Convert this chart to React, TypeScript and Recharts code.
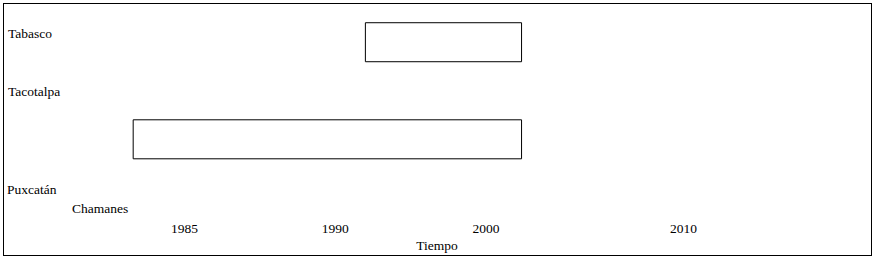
import { BarChart, Bar, XAxis, YAxis } from "recharts";

const FONT = '"Liberation Serif", "Times New Roman", serif';

// place names, and the level of the diagram each name sits on
const places = ["Tabasco", "Tacotalpa", "Puxcatán", "Chamanes"];
const placeLevels = [0.3, 1.5, 3.5, 3.9];

// periods drawn as boxes
const periodNames = ["Tabasco", "Tacotalpa"];
const periodLevels = [0.5, 2.5];
const periodStart = [1992, 1983.3];
const periodEnd = [2001.8, 2001.8];

// the time axis of the original is not linear, each tick year has its own slot
const tickYears = [1985, 1990, 2000, 2010];
const tickSlots = [0, 1, 2, 3.31];

function toSlot(year: number) {
  let i = 0;
  while (i < tickYears.length - 2 && year > tickYears[i + 1]) i++;
  const t = (year - tickYears[i]) / (tickYears[i + 1] - tickYears[i]);
  return tickSlots[i] + t * (tickSlots[i + 1] - tickSlots[i]);
}

const chartData = periodNames.map((name, i) => ({
  name,
  level: periodLevels[i],
  span: [toSlot(periodStart[i]), toSlot(periodEnd[i])],
}));

const labelDx: Record<string, number> = {
  Tabasco: 6,
  Tacotalpa: 6,
  "Puxcatán": 5,
  Chamanes: 70,
};

function PlaceTick(props: any) {
  const { x, y, payload, index } = props;
  let i = placeLevels.indexOf(payload?.value);
  if (i < 0) i = index;
  const name = places[i];
  return (
    <text
      x={x + (labelDx[name] ?? 6)}
      y={y}
      dy="0.42em"
      textAnchor="start"
      fill="#000"
      fontSize={13.5}
      fontFamily={FONT}
    >
      {name}
    </text>
  );
}

export default function App() {
  return (
    <div
      style={{
        position: "absolute",
        left: 0,
        top: 0,
        width: 876,
        height: 259,
        background: "#fff",
        fontFamily: FONT,
      }}
    >
      <BarChart
        width={876}
        height={259}
        layout="vertical"
        data={chartData}
        margin={{ top: 18, right: 4, bottom: 0, left: 2 }}
      >
        <XAxis
          type="number"
          domain={[-1.21, 4.56]}
          allowDataOverflow
          ticks={tickSlots}
          interval={0}
          tickFormatter={(v) => String(tickYears[tickSlots.indexOf(v)])}
          axisLine={false}
          tickLine={false}
          tickSize={0}
          tickMargin={6}
          height={42}
          tick={{ fill: "#000", fontSize: 13.5, fontFamily: FONT }}
          label={{
            value: "Tiempo",
            position: "insideBottom",
            offset: 9,
            fill: "#000",
            fontSize: 13.5,
            fontFamily: FONT,
          }}
        />
        <YAxis
          type="number"
          dataKey="level"
          domain={[0, 4.1]}
          allowDataOverflow
          ticks={placeLevels}
          interval={0}
          width={1}
          mirror
          axisLine={false}
          tickLine={false}
          tickSize={0}
          tickMargin={0}
          tick={(p: any) => <PlaceTick {...p} />}
        />
        <Bar
          dataKey="span"
          barSize={39}
          fill="#fff"
          stroke="#000"
          strokeWidth={1}
          isAnimationActive={false}
        />
      </BarChart>
      <div
        style={{
          position: "absolute",
          left: 3,
          top: 3,
          width: 869,
          height: 253,
          border: "1px solid #000",
          boxSizing: "border-box",
          pointerEvents: "none",
        }}
      />
    </div>
  );
}
